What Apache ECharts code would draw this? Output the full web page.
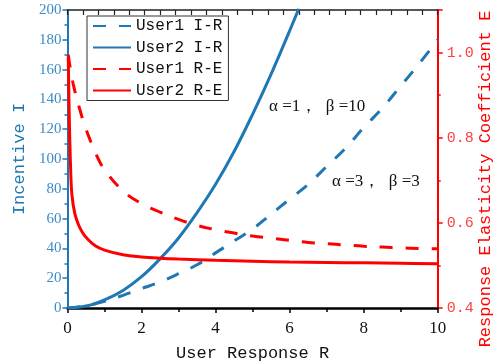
<!DOCTYPE html>
<html>
<head>
<meta charset="utf-8">
<script src="https://cdn.jsdelivr.net/npm/echarts@6/dist/echarts.min.js"></script>
<style>
  html, body { margin: 0; padding: 0; background: #fff; }
  #chart { width: 497px; height: 363px; }
</style>
</head>
<body>
<div id="chart"></div>
<script>
// Incentive I versus user response R (left axis)
const user1IR_R = [0, 0.5, 1, 1.5, 2, 2.5, 3, 3.5, 4, 4.5, 5, 5.5, 6, 6.5, 7, 7.5, 8, 8.5, 9, 9.5, 10];
const user1IR_I = [0, 1.5, 4.5, 8.5, 13, 17.5, 23, 29, 37, 45, 53, 63, 73, 83, 95, 107, 121, 134, 149, 164, 180];

const user2IR_R = [0, 0.5, 1, 1.5, 2, 2.5, 3, 3.5, 4, 4.5, 5, 5.5, 6, 6.25];
const user2IR_I = [0, 1.3, 5.5, 11.8, 21, 33, 47, 64, 83, 105, 130, 157, 186, 201];

// Response elasticity coefficient E versus R (right axis)
const user1RE_R = [0.02, 0.15, 0.36, 0.5, 0.77, 1, 1.5, 2, 2.5, 3, 3.5, 4, 4.5, 5, 5.5, 6, 6.5, 7, 7.5, 8, 8.5, 9, 9.5, 10];
const user1RE_E = [0.995, 0.928, 0.858, 0.82, 0.762, 0.725, 0.675, 0.645, 0.625, 0.608, 0.594, 0.584, 0.576, 0.569, 0.564, 0.559, 0.554, 0.551, 0.548, 0.545, 0.543, 0.541, 0.540, 0.539];

const user2RE_R = [0.02, 0.05, 0.08, 0.12, 0.2, 0.3, 0.4, 0.5, 0.75, 1, 1.5, 2, 2.5, 3, 4, 5, 6, 7, 8, 9, 10];
const user2RE_E = [0.99, 0.84, 0.74, 0.665, 0.621, 0.595, 0.578, 0.566, 0.546, 0.536, 0.525, 0.52, 0.517, 0.515, 0.512, 0.51, 0.508, 0.507, 0.506, 0.505, 0.504];

const seriesNames = ['User1 I-R', 'User2 I-R', 'User1 R-E', 'User2 R-E'];
const xTicks = { min: 0, max: 10, interval: 2 };
const leftTicks = { min: 0, max: 200, interval: 20 };
const rightTicks = { min: 0.4, max: 1.1, interval: 0.2 };
const rightAxisTitle = 'Response Elasticity Coefficient E';

const BLUE = '#1f77b4';
const RED = '#ff0000';
const MONO = "'Liberation Mono', 'DejaVu Sans Mono', monospace";
const SERIF = "'Liberation Serif', 'DejaVu Serif', serif";

function pairs(xs, ys) { return xs.map((x, i) => [x, ys[i]]); }

function lineSeries(name, yAxisIndex, xs, ys, color, dashed) {
  return {
    name, type: 'line', xAxisIndex: 0, yAxisIndex,
    data: pairs(xs, ys), showSymbol: false, symbol: 'none',
    smooth: 0.4,
    lineStyle: { color, width: 3, type: dashed ? [13, 13] : 'solid', cap: 'butt' },
    itemStyle: { color }
  };
}

const chart = echarts.init(document.getElementById('chart'), null, { renderer: 'canvas' });

const option = {
  animation: false,
  backgroundColor: '#fff',
  grid: { left: 67.5, right: 59.3, top: 10, bottom: 55, containLabel: false, outerBoundsMode: 'none' },
  legend: {
    orient: 'vertical',
    left: 87, top: 16,
    padding: [2, 6, 2, 5],
    itemWidth: 38, itemHeight: 16, itemGap: 5.5,
    backgroundColor: '#fff',
    borderColor: '#333', borderWidth: 1,
    itemStyle: { opacity: 0, borderWidth: 0 },
    textStyle: { fontFamily: MONO, fontSize: 16, color: '#111' },
    data: seriesNames
  },
  xAxis: [
    {
      type: 'value', position: 'bottom',
      min: xTicks.min, max: xTicks.max, interval: xTicks.interval,
      name: 'User Response R', nameLocation: 'middle', nameGap: 37,
      nameTextStyle: { fontFamily: MONO, fontSize: 17, color: '#111' },
      axisLine: { show: true, onZero: false, lineStyle: { color: '#000', width: 2.5 } },
      axisTick: { show: true, inside: false, length: 5, lineStyle: { color: '#000', width: 1.5 } },
      minorTick: { show: true, splitNumber: 2, length: 4, lineStyle: { color: '#000', width: 1.5 } },
      axisLabel: { fontFamily: SERIF, fontSize: 17, color: '#111', margin: 12 },
      splitLine: { show: false }
    },
    {
      type: 'value', position: 'top',
      min: 0, max: 24, interval: 1,
      axisLine: { show: true, onZero: false, lineStyle: { color: '#222', width: 1.5 } },
      axisTick: { show: true, inside: true, length: 5, lineStyle: { color: '#222', width: 1.2 } },
      axisLabel: { show: false },
      splitLine: { show: false }
    }
  ],
  yAxis: [
    {
      type: 'value', position: 'left',
      min: leftTicks.min, max: leftTicks.max, interval: leftTicks.interval,
      name: 'Incentive I', nameLocation: 'middle', nameGap: 38, nameRotate: 90,
      nameTextStyle: { fontFamily: MONO, fontSize: 17, color: BLUE },
      axisLine: { show: true, onZero: false, lineStyle: { color: BLUE, width: 2 } },
      axisTick: { show: true, inside: false, length: 5, lineStyle: { color: BLUE, width: 1.5 } },
      minorTick: { show: true, splitNumber: 2, length: 3, lineStyle: { color: BLUE, width: 1.5 } },
      axisLabel: { fontFamily: SERIF, fontSize: 15, color: '#3a8cc8', margin: 6 },
      splitLine: { show: false }
    },
    {
      type: 'value', position: 'right',
      min: rightTicks.min, max: rightTicks.max, interval: rightTicks.interval,
      axisLine: { show: true, onZero: false, lineStyle: { color: RED, width: 2 } },
      axisTick: { show: true, inside: false, length: 5, lineStyle: { color: RED, width: 1.5 } },
      minorTick: { show: true, splitNumber: 2, length: 3, lineStyle: { color: RED, width: 1.5 } },
      axisLabel: {
        fontFamily: MONO, fontSize: 15, color: '#ff4040', margin: 9,
        showMaxLabel: false,
        formatter: v => v.toFixed(1)
      },
      splitLine: { show: false }
    }
  ],
  series: [
    lineSeries(seriesNames[0], 0, user1IR_R, user1IR_I, BLUE, true),
    lineSeries(seriesNames[1], 0, user2IR_R, user2IR_I, BLUE, false),
    lineSeries(seriesNames[2], 1, user1RE_R, user1RE_E, RED, true),
    lineSeries(seriesNames[3], 1, user2RE_R, user2RE_E, RED, false)
  ],
  graphic: [
    {
      // right-hand axis title, read bottom to top
      type: 'text', x: 485, y: 179, rotation: Math.PI / 2,
      style: {
        text: rightAxisTitle, font: "17px 'Liberation Mono', monospace", fill: RED,
        align: 'center', verticalAlign: 'middle'
      }
    },
    {
      type: 'text', left: 269, top: 98,
      style: { text: 'α =1，  β =10', font: "17px 'Liberation Serif', serif", fill: '#111' }
    },
    {
      type: 'text', left: 332, top: 173,
      style: { text: 'α =3，  β =3', font: "17px 'Liberation Serif', serif", fill: '#111' }
    }
  ]
};

chart.setOption(option);
</script>
</body>
</html>
